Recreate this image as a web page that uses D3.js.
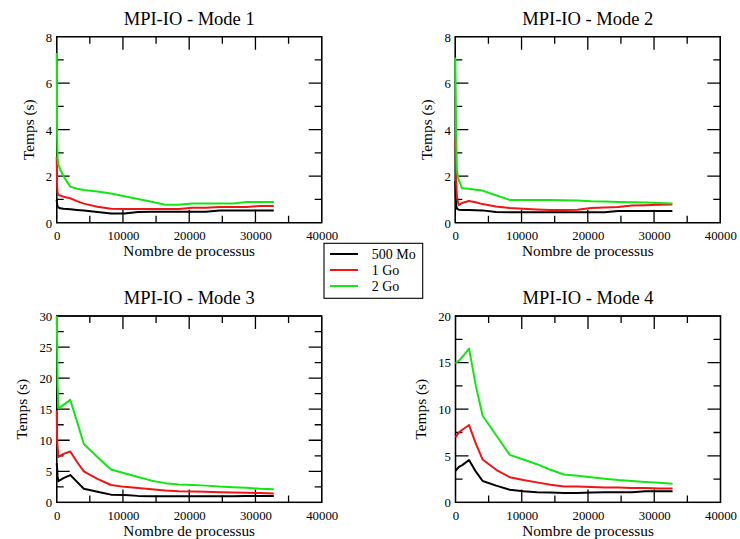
<!DOCTYPE html>
<html>
<head>
<meta charset="utf-8">
<script src="https://cdn.jsdelivr.net/npm/d3@7"></script>
<style>
  html, body { margin: 0; padding: 0; background: #fff; }
  svg { display: block; font-family: "Liberation Serif", "Times New Roman", serif; }
</style>
</head>
<body>
<svg id="chart" width="740" height="539"></svg>
<script>
// Number of MPI processes for each measurement
const procs = [1, 64, 128, 256, 512, 1024, 2048, 3072, 4096, 6144, 8192, 10240, 12288,
               14336, 16384, 18432, 20480, 22528, 24576, 26624, 28672, 30720, 32768];

const fileSizes = ["500 Mo", "1 Go", "2 Go"];
const modeTitles = ["MPI-IO - Mode 1", "MPI-IO - Mode 2", "MPI-IO - Mode 3", "MPI-IO - Mode 4"];

// Mode 1 times (s)
const mode1_500Mo = [0.98, 0.80, 0.70, 0.66, 0.62, 0.60, 0.58, 0.55, 0.52, 0.46, 0.40, 0.40, 0.46,
                     0.47, 0.47, 0.47, 0.47, 0.47, 0.52, 0.52, 0.52, 0.52, 0.52];
const mode1_1Go   = [2.84, 1.60, 1.30, 1.20, 1.17, 1.12, 1.05, 0.93, 0.82, 0.69, 0.60, 0.59, 0.59,
                     0.59, 0.59, 0.59, 0.64, 0.64, 0.68, 0.68, 0.68, 0.72, 0.72];
const mode1_2Go   = [7.30, 3.70, 2.80, 2.50, 2.30, 2.00, 1.55, 1.46, 1.41, 1.34, 1.26, 1.14, 1.02,
                     0.90, 0.77, 0.77, 0.83, 0.83, 0.83, 0.83, 0.89, 0.89, 0.89];

// Mode 2 times (s)
const mode2_500Mo = [1.80, 1.10, 0.75, 0.60, 0.56, 0.55, 0.55, 0.54, 0.53, 0.46, 0.45, 0.45, 0.45,
                     0.45, 0.45, 0.45, 0.45, 0.45, 0.50, 0.50, 0.50, 0.50, 0.50];
const mode2_1Go   = [3.60, 3.00, 1.80, 1.10, 0.76, 0.85, 0.93, 0.88, 0.80, 0.70, 0.63, 0.60, 0.57,
                     0.55, 0.55, 0.56, 0.63, 0.65, 0.68, 0.74, 0.75, 0.77, 0.78];
const mode2_2Go   = [7.10, 5.50, 3.50, 2.20, 1.84, 1.48, 1.46, 1.42, 1.38, 1.18, 0.98, 0.98, 0.98,
                     0.98, 0.97, 0.96, 0.92, 0.91, 0.89, 0.88, 0.87, 0.85, 0.83];

// Mode 3 times (s)
const mode3_500Mo = [6.3, 5.5, 4.2, 3.4, 3.6, 3.9, 4.4, 3.3, 2.2, 1.7, 1.25, 1.2, 1.05,
                     1.0, 1.0, 1.0, 1.0, 1.0, 1.0, 1.0, 1.05, 1.05, 1.05];
const mode3_1Go   = [14.8, 10.0, 9.0, 7.3, 7.5, 7.8, 8.2, 6.5, 5.0, 3.8, 2.8, 2.5, 2.3,
                     2.1, 1.9, 1.8, 1.75, 1.7, 1.65, 1.6, 1.55, 1.5, 1.45];
const mode3_2Go   = [30.0, 25.5, 19.0, 15.2, 15.3, 15.7, 16.5, 13.0, 9.4, 7.3, 5.3, 4.7, 4.1,
                     3.5, 3.1, 2.9, 2.8, 2.7, 2.55, 2.45, 2.35, 2.2, 2.1];

// Mode 4 times (s)
const mode4_500Mo = [3.4, 3.45, 3.5, 3.6, 3.8, 4.0, 4.55, 3.3, 2.3, 1.8, 1.35, 1.2, 1.1,
                     1.05, 1.0, 1.0, 1.05, 1.1, 1.1, 1.1, 1.2, 1.2, 1.2];
const mode4_1Go   = [7.0, 7.05, 7.1, 7.25, 7.5, 7.8, 8.3, 6.3, 4.6, 3.5, 2.7, 2.4, 2.15,
                     1.9, 1.7, 1.7, 1.65, 1.6, 1.6, 1.55, 1.55, 1.5, 1.5];
const mode4_2Go   = [14.9, 14.95, 15.0, 15.1, 15.2, 15.6, 16.5, 12.5, 9.3, 7.2, 5.1, 4.6, 4.1,
                     3.5, 3.0, 2.85, 2.7, 2.55, 2.4, 2.3, 2.2, 2.1, 2.0];

const xTickValues = [0, 10000, 20000, 30000, 40000];
const xMinorValues = [5000, 15000, 25000, 35000];
const yMaxima = [8, 8, 30, 20];
const yMajorSteps = [2, 2, 5, 5];

const seriesColors = ["#000000", "#f01414", "#14e614"];

const modes = [
  [mode1_500Mo, mode1_1Go, mode1_2Go],
  [mode2_500Mo, mode2_1Go, mode2_2Go],
  [mode3_500Mo, mode3_1Go, mode3_2Go],
  [mode4_500Mo, mode4_1Go, mode4_2Go]
];

// Plot frames of the 2x2 grid
const frames = [
  { left: 56.7,  right: 321.7, top: 36.7, bottom: 222.7 },
  { left: 455.3, right: 720.3, top: 36.7, bottom: 222.7 },
  { left: 56.7,  right: 321.7, top: 316,  bottom: 502.4 },
  { left: 455.5, right: 720.5, top: 316,  bottom: 502.4 }
];

const svg = d3.select("#chart");
const MAJOR = 13, MINOR = 7;

modes.forEach((sets, i) => {
  const f = frames[i];
  const w = f.right - f.left, h = f.bottom - f.top;
  const g = svg.append("g").attr("transform", `translate(${f.left},${f.top})`);

  const x = d3.scaleLinear().domain([0, 40000]).range([0, w]);
  const y = d3.scaleLinear().domain([0, yMaxima[i]]).range([h, 0]);

  const step = yMajorSteps[i];
  const yMajor = d3.range(0, yMaxima[i] + step / 2, step);
  const yMinor = d3.range(step / 2, yMaxima[i], step);

  // frame
  g.append("rect").attr("x", 0).attr("y", 0).attr("width", w).attr("height", h)
    .attr("fill", "none").attr("stroke", "#000").attr("stroke-width", 1.3);

  // tick labels from d3 axes
  const bx = g.append("g").attr("transform", `translate(0,${h})`)
    .call(d3.axisBottom(x).tickValues(xTickValues).tickSize(0).tickFormat(d3.format("d")));
  const ly = g.append("g")
    .call(d3.axisLeft(y).tickValues(yMajor).tickSize(0).tickFormat(d3.format("d")));
  [bx, ly].forEach(a => { a.select(".domain").remove(); a.selectAll(".tick line").remove(); });
  bx.selectAll(".tick text")
    .attr("y", 17.5).attr("dy", 0)
    .attr("font-family", "Liberation Serif, serif").attr("font-size", 12.8).attr("fill", "#000");
  ly.selectAll(".tick text")
    .attr("x", -4.5).attr("dy", "0.34em")
    .attr("font-family", "Liberation Serif, serif").attr("font-size", 12.8).attr("fill", "#000");

  // frame outline plus inward tick marks on all four sides, as one path
  const xMarks = xTickValues.map(v => [v, MAJOR]).concat(xMinorValues.map(v => [v, MINOR]))
    .filter(d => d[0] > 0 && d[0] < 40000);
  const yMarks = yMajor.map(v => [v, MAJOR]).concat(yMinor.map(v => [v, MINOR]))
    .filter(d => d[0] > 0 && d[0] < yMaxima[i]);
  const p = d3.path();
  p.rect(0, 0, w, h);
  xMarks.forEach(([v, len]) => {
    const px = x(v);
    p.moveTo(px, h); p.lineTo(px, h - len);
    p.moveTo(px, 0); p.lineTo(px, len);
  });
  yMarks.forEach(([v, len]) => {
    const py = y(v);
    p.moveTo(0, py); p.lineTo(len, py);
    p.moveTo(w, py); p.lineTo(w - len, py);
  });
  g.append("path").attr("d", p.toString())
    .attr("fill", "none").attr("stroke", "#000").attr("stroke-width", 1.3);

  // data lines, drawn over the frame
  const line = d3.line().x((d, k) => x(procs[k])).y(d => y(d));
  sets.forEach((vals, s) => {
    g.append("path").datum(vals)
      .attr("d", line)
      .attr("fill", "none")
      .attr("stroke", seriesColors[s])
      .attr("stroke-width", 2)
      .attr("stroke-linejoin", "round");
  });

  // titles
  g.append("text").attr("x", w / 2).attr("y", -12)
    .attr("text-anchor", "middle").attr("font-size", 18.5).text(modeTitles[i]);
  g.append("text").attr("x", w / 2).attr("y", h + 33.8)
    .attr("text-anchor", "middle").attr("font-size", 15.3).text("Nombre de processus");
  const labelOffset = yMaxima[i] >= 10 ? 35 : 28.4;
  g.append("text")
    .attr("transform", `translate(${-labelOffset},${h / 2}) rotate(-90)`)
    .attr("dy", "0.35em")
    .attr("text-anchor", "middle").attr("font-size", 15.3).text("Temps (s)");
});

// legend
const legend = svg.append("g").attr("transform", "translate(324,243.3)");
legend.append("rect").attr("width", 98.7).attr("height", 55)
  .attr("fill", "#fff").attr("stroke", "#000").attr("stroke-width", 1.1);
fileSizes.forEach((name, s) => {
  const yy = 10.7 + s * 16;
  legend.append("line").attr("x1", 6).attr("x2", 34).attr("y1", yy).attr("y2", yy)
    .attr("stroke", seriesColors[s]).attr("stroke-width", 2);
  legend.append("text").attr("x", 47.7).attr("y", yy + 4.7)
    .attr("font-size", 14).text(name);
});
</script>
</body>
</html>
